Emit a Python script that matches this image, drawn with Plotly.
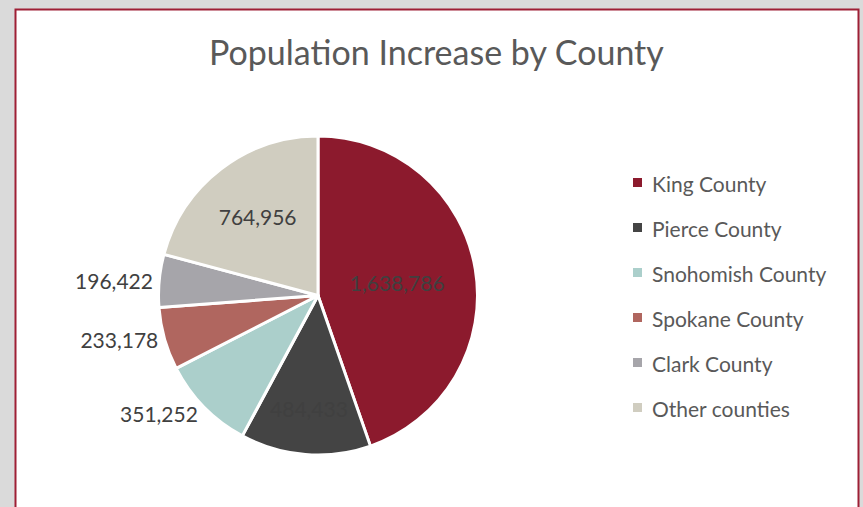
import plotly.graph_objects as go

counties = ["King County", "Pierce County", "Snohomish County", "Spokane County", "Clark County", "Other counties"]
increase = [1638786, 484433, 351252, 233178, 196422, 764956]
colors = ["#8c1a2d", "#444444", "#abcfcb", "#b0665f", "#a6a5aa", "#d0cdc0"]
label_pos = ["inside", "inside", "outside", "outside", "outside", "inside"]
title_text = "Population Increase by County"

W, H = 863, 507
FONT = "Lato"

fig = go.Figure()
fig.add_trace(go.Pie(
    labels=counties,
    values=increase,
    sort=False,
    direction="clockwise",
    rotation=0,
    marker=dict(colors=colors, line=dict(color="white", width=3)),
    texttemplate="%{value:,.0f}",
    textposition=label_pos,
    insidetextorientation="horizontal",
    textfont=dict(family=FONT, size=21, color="#404040"),
    insidetextfont=dict(family=FONT, size=21, color="#404040"),
    outsidetextfont=dict(family=FONT, size=21, color="#404040"),
    hoverinfo="label+value+percent",
    showlegend=False,
    domain=dict(x=[158 / W, 478 / W], y=[(H - 455) / H, (H - 136) / H]),
))

def px_x(x):
    return x / W

def px_y(y):
    return 1 - y / H

shapes = [
    dict(type="rect", xref="paper", yref="paper", layer="below",
         x0=px_x(15.5), x1=px_x(858.5), y0=px_y(520), y1=px_y(9.5),
         fillcolor="white", line=dict(color="#9e1f35", width=2)),
]
annotations = [
    dict(text=title_text, xref="paper", yref="paper", x=px_x(437), y=px_y(52),
         xanchor="center", yanchor="middle", showarrow=False,
         font=dict(family=FONT, size=34, color="#595959")),
]
for i, (name, col) in enumerate(zip(counties, colors)):
    cy = 182.5 + 45 * i
    shapes.append(dict(type="rect", xref="paper", yref="paper", layer="above",
                       x0=px_x(633), x1=px_x(642), y0=px_y(cy + 4.5), y1=px_y(cy - 4.5),
                       fillcolor=col, line=dict(width=0)))
    annotations.append(dict(text=name, xref="paper", yref="paper", x=px_x(650), y=px_y(cy + 0.5),
                            xanchor="left", yanchor="middle", showarrow=False,
                            font=dict(family=FONT, size=21, color="#595959")))

fig.update_layout(
    width=W, height=H,
    margin=dict(l=0, r=0, t=0, b=0),
    paper_bgcolor="#dadada",
    shapes=shapes,
    annotations=annotations,
    showlegend=False,
)

fig.write_html(
    "out.html",
    config={"displayModeBar": False},
    post_script="document.body.style.margin='0';document.body.style.overflow='hidden';",
)
